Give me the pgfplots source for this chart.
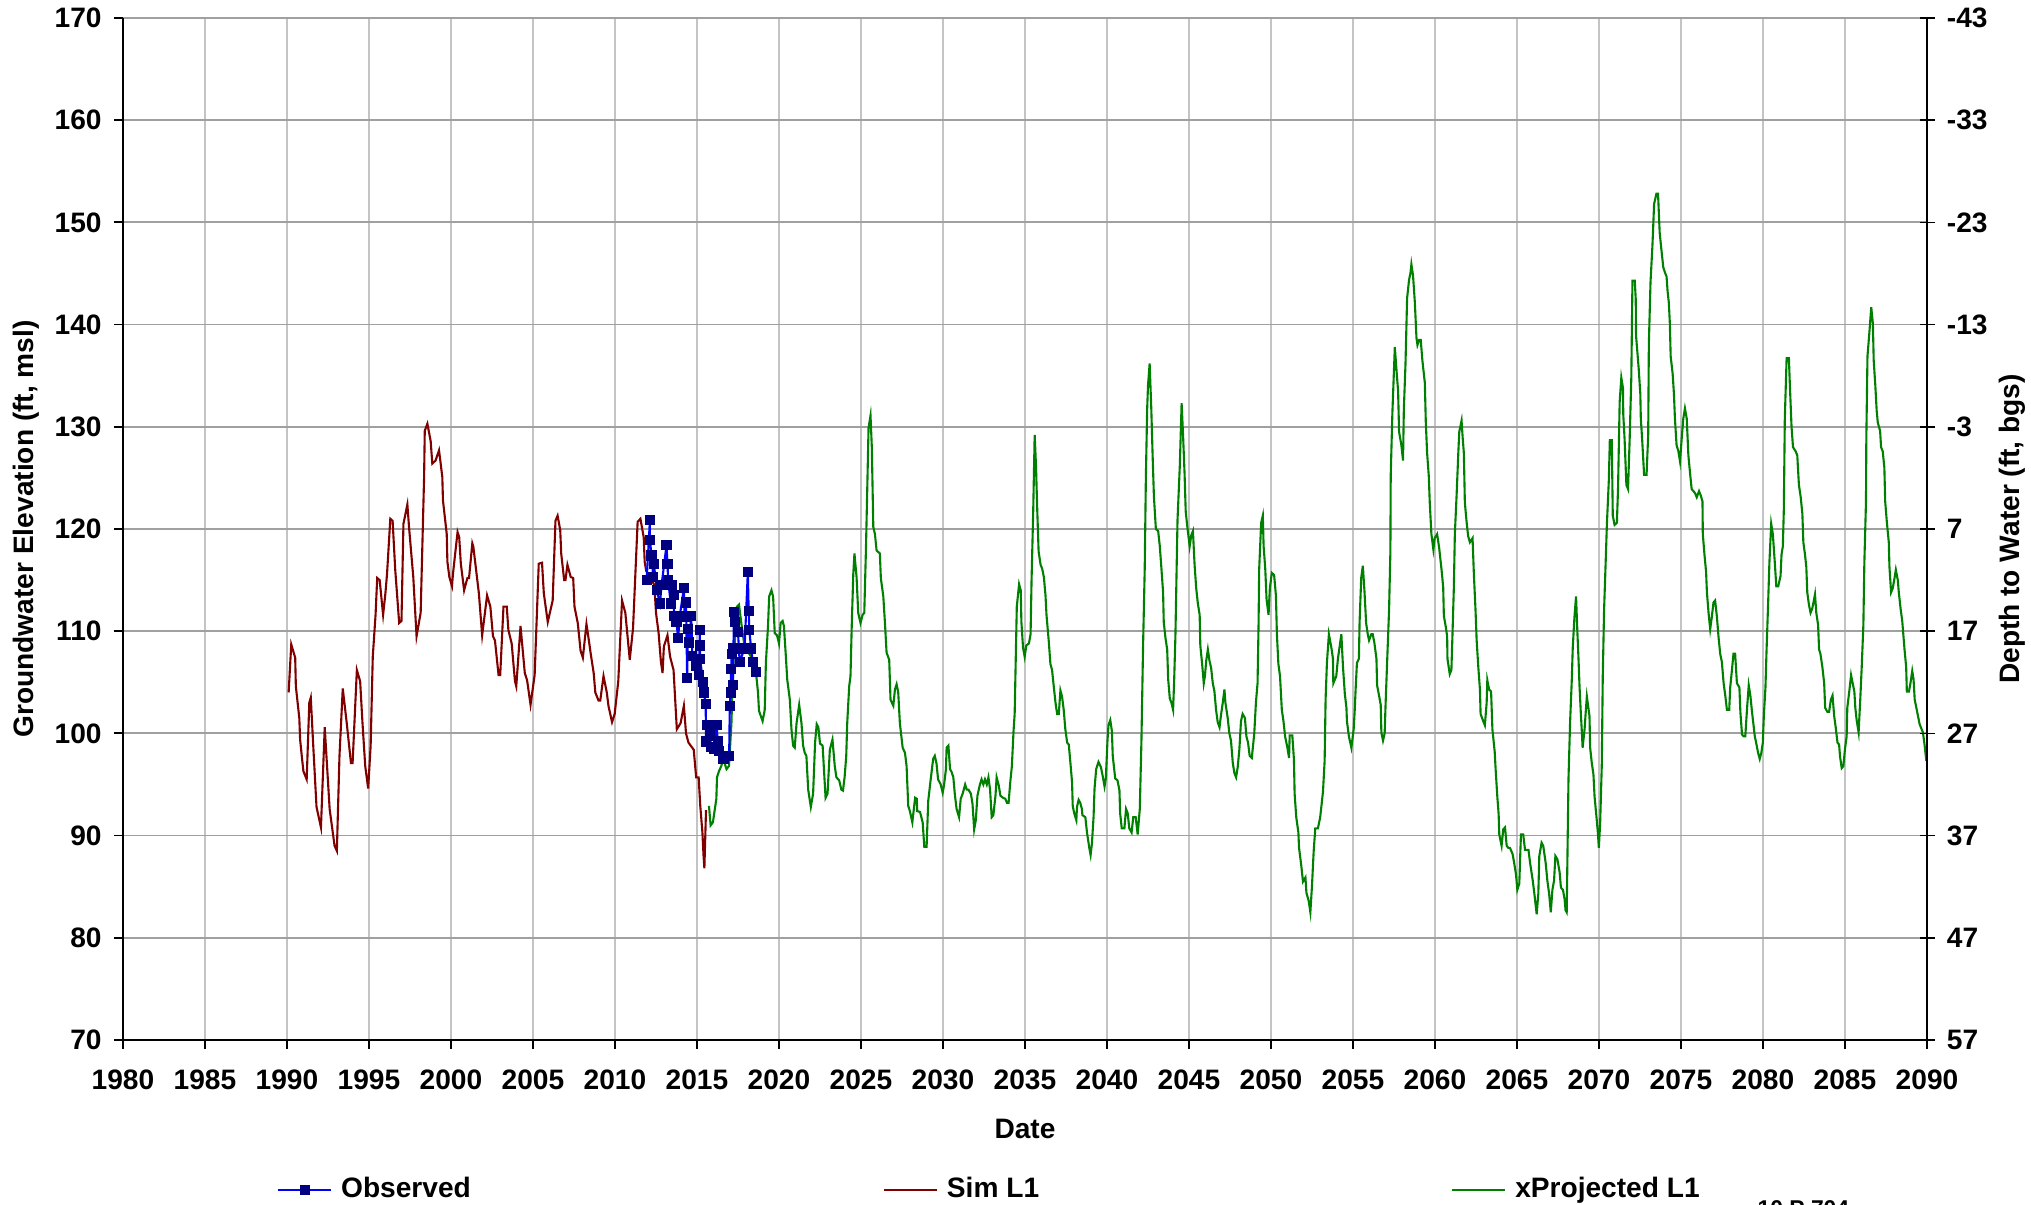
\documentclass[border=0pt]{standalone}
\usepackage{fontspec}
\setmainfont{Liberation Sans}
\usepackage{pgfplots}
\usepackage{pgfplotstable}
\pgfplotsset{compat=1.18}
\definecolor{obsline}{RGB}{0,0,255}
\definecolor{obsmark}{RGB}{0,0,128}
\definecolor{simc}{RGB}{128,0,0}
\definecolor{projc}{RGB}{0,128,0}
\definecolor{vgrid}{RGB}{196,196,196}
\definecolor{hgrid}{RGB}{160,160,160}
\newcommand{\lbl}{\fontsize{8}{9.6}\selectfont\bfseries}

\pgfplotstableread{
x y
2011.93 115.0
2012.13 120.9
2012.13 118.9
2012.23 117.4
2012.33 115.3
2012.37 116.6
2012.55 114.0
2012.74 112.7
2012.84 114.5
2013.14 118.4
2013.2 116.6
2013.24 115.0
2013.4 112.7
2013.44 114.5
2013.58 113.5
2013.6 111.5
2013.75 110.9
2013.85 109.3
2013.95 111.5
2014.2 114.2
2014.25 111.4
2014.33 112.8
2014.4 105.4
2014.45 110.2
2014.51 108.9
2014.65 111.5
2014.71 107.6
2014.95 106.6
2015.12 105.7
2015.17 110.1
2015.18 108.6
2015.19 107.3
2015.37 105.0
2015.41 104.0
2015.53 102.9
2015.55 99.2
2015.6 100.8
2015.77 99.8
2015.87 98.7
2016.05 98.5
2016.2 100.8
2016.26 99.2
2016.36 98.3
2016.62 97.5
2016.96 97.8
2017.0 102.7
2017.05 104.0
2017.08 106.3
2017.12 107.8
2017.2 104.7
2017.22 108.3
2017.26 111.9
2017.3 110.9
2017.5 109.9
2017.6 107.0
2017.9 108.3
2018.1 115.8
2018.15 112.0
2018.19 110.1
2018.3 108.3
2018.4 107.0
2018.6 106.0
}\obsdata

\pgfplotstableread{
x y
1990.1 104.0
1990.26 108.7
1990.5 107.4
1990.54 104.6
1990.75 101.5
1990.8 99.4
1990.9 97.8
1991.0 96.3
1991.2 95.5
1991.36 103.0
1991.45 103.5
1991.6 98.8
1991.8 92.8
1992.07 90.8
1992.3 100.6
1992.6 92.6
1992.9 89.0
1993.04 88.5
1993.2 97.8
1993.4 104.4
1993.65 100.9
1993.9 97.1
1994.0 97.1
1994.26 106.2
1994.46 105.1
1994.6 101.1
1994.77 96.8
1994.95 94.6
1995.1 98.8
1995.23 107.5
1995.4 111.6
1995.5 115.2
1995.65 115.0
1995.86 111.6
1996.0 113.7
1996.1 115.6
1996.3 121.0
1996.44 120.8
1996.6 116.0
1996.84 110.8
1996.98 111.0
1997.1 120.5
1997.34 122.4
1997.44 120.2
1997.7 115.3
1997.9 109.5
1998.15 111.8
1998.36 125.1
1998.4 129.6
1998.56 130.3
1998.76 128.6
1998.86 126.4
1999.06 126.7
1999.27 127.7
1999.47 125.1
1999.51 122.8
1999.74 119.5
1999.78 116.8
1999.9 115.3
2000.06 114.4
2000.12 115.6
2000.4 119.7
2000.5 119.2
2000.6 116.6
2000.8 114.0
2001.0 115.2
2001.1 115.2
2001.3 118.6
2001.36 118.3
2001.7 113.7
2001.9 109.6
2002.2 113.5
2002.4 112.4
2002.56 109.5
2002.68 109.1
2002.9 105.7
2003.0 105.7
2003.2 112.4
2003.4 112.4
2003.5 110.1
2003.7 108.8
2003.9 105.1
2003.98 104.6
2004.24 110.5
2004.5 105.9
2004.64 105.2
2004.85 102.8
2005.1 105.7
2005.35 116.6
2005.55 116.7
2005.66 113.7
2005.9 110.9
2006.2 113.0
2006.37 120.8
2006.5 121.3
2006.66 119.9
2006.72 117.6
2006.9 115.0
2006.98 115.0
2007.1 116.5
2007.3 115.3
2007.45 115.2
2007.53 112.4
2007.73 110.8
2007.9 108.1
2008.04 107.4
2008.26 110.7
2008.46 108.5
2008.5 108.0
2008.7 105.9
2008.8 104.0
2009.0 103.2
2009.1 103.2
2009.3 105.6
2009.5 104.0
2009.6 102.7
2009.82 101.1
2009.98 101.9
2010.2 105.1
2010.43 113.0
2010.63 111.8
2010.9 107.2
2011.1 110.3
2011.38 120.7
2011.55 121.0
2011.75 119.2
2011.81 116.8
2011.9 115.9
2012.15 115.3
2012.4 114.5
2012.5 111.8
2012.66 109.8
2012.8 107.0
2012.9 105.9
2012.98 108.5
2013.2 109.6
2013.36 107.5
2013.57 106.2
2013.77 100.4
2014.0 101.0
2014.2 102.7
2014.33 100.0
2014.48 99.1
2014.8 98.4
2014.95 95.7
2015.1 95.7
2015.2 92.9
2015.33 90.3
2015.4 88.0
2015.45 86.8
2015.55 92.5
}\simdata

\pgfplotstableread{
x y
2015.73 92.9
2015.83 91.0
2015.97 91.3
2016.18 93.6
2016.22 95.7
2016.34 96.3
2016.48 96.8
2016.6 97.5
2016.8 96.5
2016.95 96.8
2017.1 101.0
2017.16 104.3
2017.24 107.5
2017.36 110.1
2017.44 112.4
2017.56 112.6
2017.7 110.8
2017.9 108.5
2018.3 107.5
2018.58 106.2
2018.72 104.0
2018.78 102.2
2019.0 101.2
2019.13 102.3
2019.2 106.9
2019.33 110.5
2019.4 113.4
2019.54 114.0
2019.64 113.4
2019.74 109.8
2019.88 109.6
2020.0 108.8
2020.1 110.8
2020.22 111.0
2020.3 110.5
2020.42 107.5
2020.5 105.3
2020.66 103.3
2020.76 100.4
2020.86 98.8
2020.96 98.6
2021.07 101.0
2021.23 102.8
2021.37 101.0
2021.47 98.8
2021.57 98.1
2021.67 97.8
2021.78 94.5
2021.94 92.8
2022.08 94.1
2022.2 99.1
2022.3 100.9
2022.4 100.6
2022.5 99.0
2022.66 98.8
2022.73 96.8
2022.84 93.7
2022.96 94.1
2023.1 98.4
2023.26 99.4
2023.4 96.8
2023.5 95.7
2023.67 95.4
2023.8 94.5
2023.9 94.4
2024.0 95.7
2024.1 97.8
2024.16 101.0
2024.28 104.6
2024.36 105.6
2024.44 110.8
2024.53 115.6
2024.6 117.6
2024.73 115.3
2024.83 111.8
2024.97 110.8
2025.1 111.6
2025.2 111.8
2025.3 117.9
2025.38 123.8
2025.46 129.9
2025.58 131.1
2025.66 128.0
2025.75 120.2
2025.85 119.5
2025.95 117.9
2026.15 117.6
2026.21 115.2
2026.36 113.4
2026.46 110.8
2026.56 107.9
2026.72 107.2
2026.8 103.3
2026.97 102.7
2027.07 104.3
2027.17 104.8
2027.27 104.0
2027.37 101.0
2027.54 98.6
2027.68 98.1
2027.78 96.8
2027.88 92.9
2027.98 92.4
2028.13 91.3
2028.3 93.7
2028.4 93.6
2028.43 92.4
2028.6 92.3
2028.76 91.3
2028.86 88.9
2029.0 88.9
2029.1 93.4
2029.25 95.5
2029.4 97.5
2029.5 97.8
2029.6 97.1
2029.7 95.5
2029.86 95.0
2029.98 94.2
2030.06 94.9
2030.18 96.5
2030.22 98.6
2030.33 98.8
2030.43 96.5
2030.53 96.2
2030.63 95.7
2030.73 93.9
2030.83 92.6
2030.98 91.8
2031.08 93.6
2031.2 94.1
2031.35 95.0
2031.45 94.5
2031.55 94.5
2031.7 94.1
2031.8 93.1
2031.9 90.6
2032.0 91.5
2032.1 93.9
2032.25 95.0
2032.35 95.5
2032.46 95.0
2032.56 95.5
2032.67 95.0
2032.77 95.7
2032.87 94.5
2032.97 91.8
2033.07 92.0
2033.2 93.9
2033.27 95.7
2033.4 94.9
2033.5 93.9
2033.66 93.7
2033.8 93.6
2033.9 93.2
2034.0 93.2
2034.1 95.2
2034.2 96.8
2034.3 100.2
2034.37 101.9
2034.43 106.8
2034.5 112.4
2034.64 114.6
2034.74 114.0
2034.78 110.9
2034.88 108.4
2034.98 107.5
2035.08 108.6
2035.24 108.8
2035.34 109.7
2035.4 115.0
2035.5 121.7
2035.59 129.2
2035.67 126.2
2035.75 121.7
2035.83 117.8
2035.95 116.5
2036.05 116.1
2036.15 115.3
2036.25 113.5
2036.31 111.6
2036.45 109.0
2036.55 106.8
2036.65 106.2
2036.76 104.5
2036.86 103.0
2036.96 101.9
2037.06 101.9
2037.16 104.2
2037.26 103.6
2037.36 102.3
2037.46 100.4
2037.57 99.1
2037.67 98.9
2037.77 97.1
2037.87 95.2
2037.91 92.9
2038.0 92.2
2038.13 91.5
2038.17 92.8
2038.27 93.5
2038.37 93.2
2038.47 92.6
2038.5 92.0
2038.68 91.8
2038.78 90.3
2038.92 88.8
2039.0 88.1
2039.08 89.2
2039.18 91.8
2039.24 94.6
2039.34 96.5
2039.48 97.2
2039.63 96.7
2039.73 95.9
2039.85 94.8
2039.93 95.6
2040.03 99.3
2040.09 100.8
2040.2 101.3
2040.3 100.2
2040.35 97.8
2040.5 95.6
2040.64 95.4
2040.76 94.4
2040.8 92.2
2040.9 90.7
2041.06 90.7
2041.16 92.6
2041.26 92.2
2041.36 90.7
2041.5 90.3
2041.6 91.8
2041.75 91.8
2041.87 90.1
2042.0 92.6
2042.1 99.3
2042.2 108.6
2042.3 116.1
2042.37 125.0
2042.45 131.8
2042.5 134.0
2042.6 136.2
2042.7 131.8
2042.78 127.3
2042.86 123.2
2042.98 120.0
2043.12 119.8
2043.22 118.3
2043.32 116.1
2043.42 113.8
2043.46 110.9
2043.56 109.4
2043.67 108.2
2043.73 105.3
2043.83 103.4
2043.93 103.0
2044.03 102.3
2044.09 104.9
2044.17 109.4
2044.3 120.9
2044.44 126.2
2044.55 132.3
2044.64 129.1
2044.73 125.4
2044.8 121.7
2044.9 120.2
2045.04 118.3
2045.14 119.4
2045.24 119.8
2045.34 116.5
2045.44 114.2
2045.54 112.7
2045.65 111.6
2045.69 108.6
2045.8 106.8
2045.9 104.9
2045.97 105.6
2046.05 107.1
2046.15 108.2
2046.25 107.1
2046.35 106.4
2046.45 104.9
2046.55 104.1
2046.65 102.3
2046.75 101.1
2046.86 100.6
2046.96 101.9
2047.06 103.0
2047.16 104.3
2047.22 103.0
2047.36 101.5
2047.46 100.0
2047.56 99.3
2047.67 97.1
2047.77 96.1
2047.87 95.7
2047.97 96.7
2048.07 98.4
2048.17 101.2
2048.27 101.9
2048.41 101.5
2048.5 99.7
2048.6 99.1
2048.7 97.8
2048.83 97.6
2048.98 100.0
2049.08 103.0
2049.18 104.9
2049.24 110.5
2049.28 116.1
2049.4 120.6
2049.5 121.3
2049.55 118.3
2049.65 116.1
2049.73 113.1
2049.85 111.6
2049.93 114.2
2050.05 115.7
2050.19 115.5
2050.3 113.5
2050.36 109.7
2050.45 106.8
2050.55 105.6
2050.66 102.3
2050.76 101.2
2050.86 99.7
2051.0 98.6
2051.1 97.6
2051.14 99.8
2051.3 99.8
2051.4 97.4
2051.44 94.1
2051.54 91.8
2051.67 90.3
2051.71 88.8
2051.85 87.0
2051.95 85.5
2052.1 85.9
2052.16 84.4
2052.3 83.6
2052.4 82.5
2052.5 85.1
2052.6 88.4
2052.7 90.7
2052.86 90.7
2053.0 91.8
2053.17 94.3
2053.27 97.3
2053.33 103.4
2053.41 106.9
2053.53 109.7
2053.68 108.4
2053.78 107.3
2053.8 104.9
2053.98 105.6
2054.08 107.3
2054.29 109.7
2054.39 106.5
2054.5 103.9
2054.6 102.5
2054.63 101.2
2054.75 99.7
2054.9 98.6
2055.04 100.4
2055.1 102.1
2055.16 104.3
2055.24 106.9
2055.36 107.3
2055.4 110.8
2055.5 115.2
2055.6 116.4
2055.7 113.9
2055.8 110.8
2055.9 109.7
2055.98 109.1
2056.12 109.7
2056.2 109.7
2056.3 108.9
2056.43 107.3
2056.47 104.7
2056.6 103.6
2056.69 102.8
2056.73 100.1
2056.83 99.3
2056.93 100.0
2056.99 103.0
2057.1 107.8
2057.2 112.1
2057.28 117.8
2057.3 125.2
2057.4 131.3
2057.55 137.8
2057.65 135.6
2057.75 133.5
2057.81 129.5
2057.95 128.2
2058.05 126.7
2058.1 131.7
2058.2 136.1
2058.3 142.6
2058.42 144.4
2058.5 145.0
2058.56 145.9
2058.66 144.8
2058.77 142.2
2058.87 138.7
2058.93 138.0
2059.03 138.5
2059.13 138.5
2059.23 136.5
2059.38 134.3
2059.44 130.4
2059.52 127.4
2059.62 125.2
2059.68 122.6
2059.78 119.5
2059.9 118.0
2059.98 119.1
2060.13 119.5
2060.25 118.2
2060.4 116.0
2060.5 114.3
2060.54 111.5
2060.66 110.4
2060.74 109.5
2060.76 107.3
2060.9 105.8
2061.0 106.2
2061.07 109.9
2061.15 114.3
2061.21 119.5
2061.32 123.4
2061.42 127.4
2061.48 129.5
2061.62 130.6
2061.68 129.1
2061.76 127.4
2061.82 122.6
2061.92 120.8
2062.02 119.3
2062.13 118.7
2062.29 119.1
2062.37 115.6
2062.47 112.1
2062.54 109.1
2062.64 106.5
2062.74 104.3
2062.78 101.9
2062.94 101.2
2063.04 100.8
2063.15 103.0
2063.19 105.2
2063.3 104.3
2063.42 104.1
2063.5 100.4
2063.64 98.2
2063.7 96.4
2063.8 93.8
2063.88 92.1
2063.92 90.1
2064.06 89.0
2064.16 90.6
2064.27 90.8
2064.37 89.0
2064.47 88.8
2064.57 88.8
2064.73 88.2
2064.83 87.3
2064.94 86.2
2065.02 84.7
2065.14 85.3
2065.24 90.1
2065.38 90.1
2065.49 88.6
2065.7 88.6
2065.8 87.3
2065.96 85.6
2066.06 84.3
2066.2 82.3
2066.3 84.3
2066.36 88.0
2066.5 89.3
2066.6 89.0
2066.75 87.3
2066.85 85.6
2066.96 84.3
2067.06 82.5
2067.16 84.7
2067.26 85.6
2067.34 88.0
2067.46 87.7
2067.6 86.4
2067.68 84.9
2067.8 84.7
2067.9 83.8
2067.96 82.7
2068.03 82.5
2068.14 95.6
2068.24 101.2
2068.34 105.2
2068.4 108.4
2068.5 111.3
2068.6 113.4
2068.68 110.0
2068.75 107.3
2068.81 104.7
2068.9 101.7
2068.96 100.0
2069.0 98.6
2069.12 100.4
2069.2 102.3
2069.26 103.6
2069.42 101.7
2069.46 98.6
2069.56 97.1
2069.66 96.0
2069.73 93.8
2069.83 92.1
2069.93 90.3
2069.99 88.8
2070.07 91.2
2070.17 96.9
2070.23 105.6
2070.31 112.1
2070.42 117.4
2070.48 120.4
2070.6 124.8
2070.66 128.7
2070.78 128.7
2070.84 121.3
2070.95 120.4
2071.09 120.6
2071.16 123.9
2071.26 132.4
2071.36 134.8
2071.46 133.8
2071.48 131.2
2071.56 128.8
2071.67 124.3
2071.77 123.9
2071.87 128.8
2071.97 134.8
2072.04 144.3
2072.18 144.3
2072.24 142.5
2072.26 138.9
2072.42 135.7
2072.52 133.2
2072.55 130.8
2072.63 128.8
2072.75 125.3
2072.9 125.3
2073.0 129.2
2073.04 138.1
2073.14 144.1
2073.26 147.8
2073.36 151.8
2073.5 152.8
2073.6 152.8
2073.7 149.0
2073.8 147.4
2073.92 145.6
2074.02 145.1
2074.12 144.7
2074.18 143.3
2074.26 142.1
2074.32 140.1
2074.37 136.9
2074.49 135.2
2074.57 133.2
2074.63 130.8
2074.73 128.2
2074.84 127.6
2074.94 126.6
2075.04 128.8
2075.14 130.8
2075.24 131.8
2075.35 130.8
2075.45 127.2
2075.55 125.5
2075.65 123.9
2075.76 123.7
2075.86 123.5
2075.96 123.1
2076.1 123.7
2076.2 123.3
2076.31 122.7
2076.33 119.5
2076.43 117.5
2076.53 115.8
2076.58 113.8
2076.68 111.8
2076.78 110.2
2076.88 111.4
2076.98 112.8
2077.08 113.0
2077.19 111.4
2077.29 109.4
2077.39 107.8
2077.49 107.0
2077.6 104.9
2077.7 103.7
2077.8 102.3
2077.94 102.3
2078.0 104.5
2078.1 106.1
2078.2 107.8
2078.3 107.8
2078.41 104.9
2078.56 104.5
2078.62 102.1
2078.72 99.9
2078.82 99.7
2078.92 99.7
2079.03 102.5
2079.13 104.7
2079.23 103.7
2079.33 102.1
2079.43 100.7
2079.5 99.7
2079.58 99.1
2079.7 98.1
2079.8 97.5
2079.9 98.1
2079.99 99.1
2080.05 101.7
2080.15 104.5
2080.21 107.8
2080.31 112.6
2080.39 116.7
2080.5 120.5
2080.6 119.5
2080.72 116.7
2080.81 114.4
2080.93 114.4
2081.07 115.4
2081.13 117.5
2081.21 118.3
2081.27 121.9
2081.33 130.8
2081.44 136.7
2081.58 136.7
2081.64 134.0
2081.74 130.0
2081.83 128.0
2081.99 127.6
2082.09 127.2
2082.19 124.3
2082.3 123.1
2082.4 121.5
2082.46 118.7
2082.56 117.5
2082.64 116.3
2082.7 113.8
2082.8 112.6
2082.9 111.8
2083.0 112.2
2083.1 113.0
2083.17 113.6
2083.25 111.8
2083.36 110.6
2083.42 108.2
2083.5 107.8
2083.62 106.5
2083.73 104.9
2083.79 102.5
2083.93 102.1
2084.03 102.1
2084.14 103.3
2084.24 103.7
2084.34 101.7
2084.44 100.5
2084.54 99.1
2084.64 98.9
2084.7 97.7
2084.8 96.6
2084.9 96.8
2085.0 98.5
2085.1 99.7
2085.14 102.5
2085.26 104.1
2085.37 105.7
2085.47 104.9
2085.57 104.1
2085.63 102.5
2085.71 101.3
2085.83 100.1
2085.93 103.3
2086.02 106.5
2086.12 110.6
2086.18 116.7
2086.28 122.7
2086.3 128.8
2086.37 136.9
2086.49 139.3
2086.6 141.7
2086.7 140.1
2086.75 136.5
2086.85 134.0
2086.93 131.6
2087.0 130.4
2087.14 129.6
2087.2 128.0
2087.3 127.6
2087.4 126.0
2087.45 122.7
2087.55 120.7
2087.67 118.7
2087.71 116.3
2087.81 113.8
2087.91 114.2
2088.0 115.0
2088.1 116.0
2088.22 115.0
2088.28 113.8
2088.39 112.2
2088.49 111.0
2088.57 109.4
2088.63 108.2
2088.73 106.5
2088.77 104.1
2088.9 104.1
2088.99 104.9
2089.1 106.1
2089.18 105.3
2089.25 103.3
2089.35 102.5
2089.45 101.7
2089.55 100.9
2089.65 100.5
2089.75 100.1
2089.85 98.9
2089.96 97.3
}\projdata

\begin{document}
\begin{tikzpicture}
\begin{axis}[
  at={(1.23cm,1.65cm)}, anchor=south west,
  scale only axis, width=18.04cm, height=10.22cm,
  xmin=1980, xmax=2090, ymin=70, ymax=170,
  xtick={1980,1985,...,2090}, ytick={70,80,...,170},
  axis x line*=bottom, axis y line*=left,
  axis line style={black, line width=0.5pt},
  tick align=outside, major tick length=0.09cm,
  tick style={black, line width=0.5pt},
  xmajorgrids, ymajorgrids,
  x grid style={vgrid, line width=0.5pt},
  y grid style={hgrid, line width=0.5pt},
  /pgf/number format/1000 sep={},
  /pgf/number format/assume math mode=true,
  ticklabel style={font=\lbl},
  xticklabel style={yshift=-0.08cm},
  label style={font=\lbl},
  xlabel={Date},
  ylabel={Groundwater Elevation (ft, msl)},
  xlabel style={at={(axis description cs:0.5,-0.087)}, anchor=center},
  ylabel style={at={(axis description cs:-0.0538,0.5)}, anchor=center},
  clip=false,
  legend columns=3,
  legend cell align=left,
  legend image code/.code={%
    \draw[#1, mark repeat=2, mark phase=2] plot coordinates {(0cm,0cm) (0.265cm,0cm) (0.53cm,0cm)};},
  legend style={draw=none, fill=none, font=\lbl,
    at={(axis description cs:0.0854,-0.1465)}, anchor=west,
    inner sep=0pt, outer sep=0pt,
    nodes={inner sep=0.09cm},
    /tikz/every even column/.append style={column sep=4.03cm}},
]
\addlegendimage{obsline, line width=0.6pt, mark=square*, mark size=1.1pt, mark options={fill=obsmark, draw=obsmark}}
\addlegendentry{Observed}
\addlegendimage{simc, line width=0.6pt}
\addlegendentry{Sim L1}
\addlegendimage{projc, line width=0.6pt}
\addlegendentry{xProjected L1}
\addplot[simc, line width=0.6pt, forget plot] table {\simdata};
\addplot[projc, line width=0.6pt, forget plot] table {\projdata};
\addplot[obsline, line width=0.6pt, mark=square*, mark size=1.15pt, mark options={fill=obsmark, draw=obsmark}, forget plot] table {\obsdata};
\end{axis}
\begin{axis}[
  at={(1.23cm,1.65cm)}, anchor=south west,
  scale only axis, width=18.04cm, height=10.22cm,
  xmin=1980, xmax=2090, ymin=-43, ymax=57, y dir=reverse,
  axis x line=none, axis y line*=right,
  axis line style={black, line width=0.5pt},
  ytick={-43,-33,-23,-13,-3,7,17,27,37,47,57},
  yticklabels={-43,-33,-23,-13,-3,7,17,27,37,47,57},
  tick align=center, major tick length=0.15cm,
  tick style={black, line width=0.5pt},
  ticklabel style={font=\lbl},
  ylabel={Depth to Water (ft, bgs)},
  label style={font=\lbl},
  ylabel style={at={(axis description cs:1.047,0.5)}, anchor=center, rotate=0},
]
\end{axis}
\node[anchor=north west, inner sep=0pt] at (17.57cm,0.05cm) {\fontsize{6.5}{7}\selectfont\bfseries 10 P 704};
\pgfresetboundingbox
\path[use as bounding box] (0,0) rectangle (20.31cm,12.05cm);
\end{tikzpicture}
\end{document}
